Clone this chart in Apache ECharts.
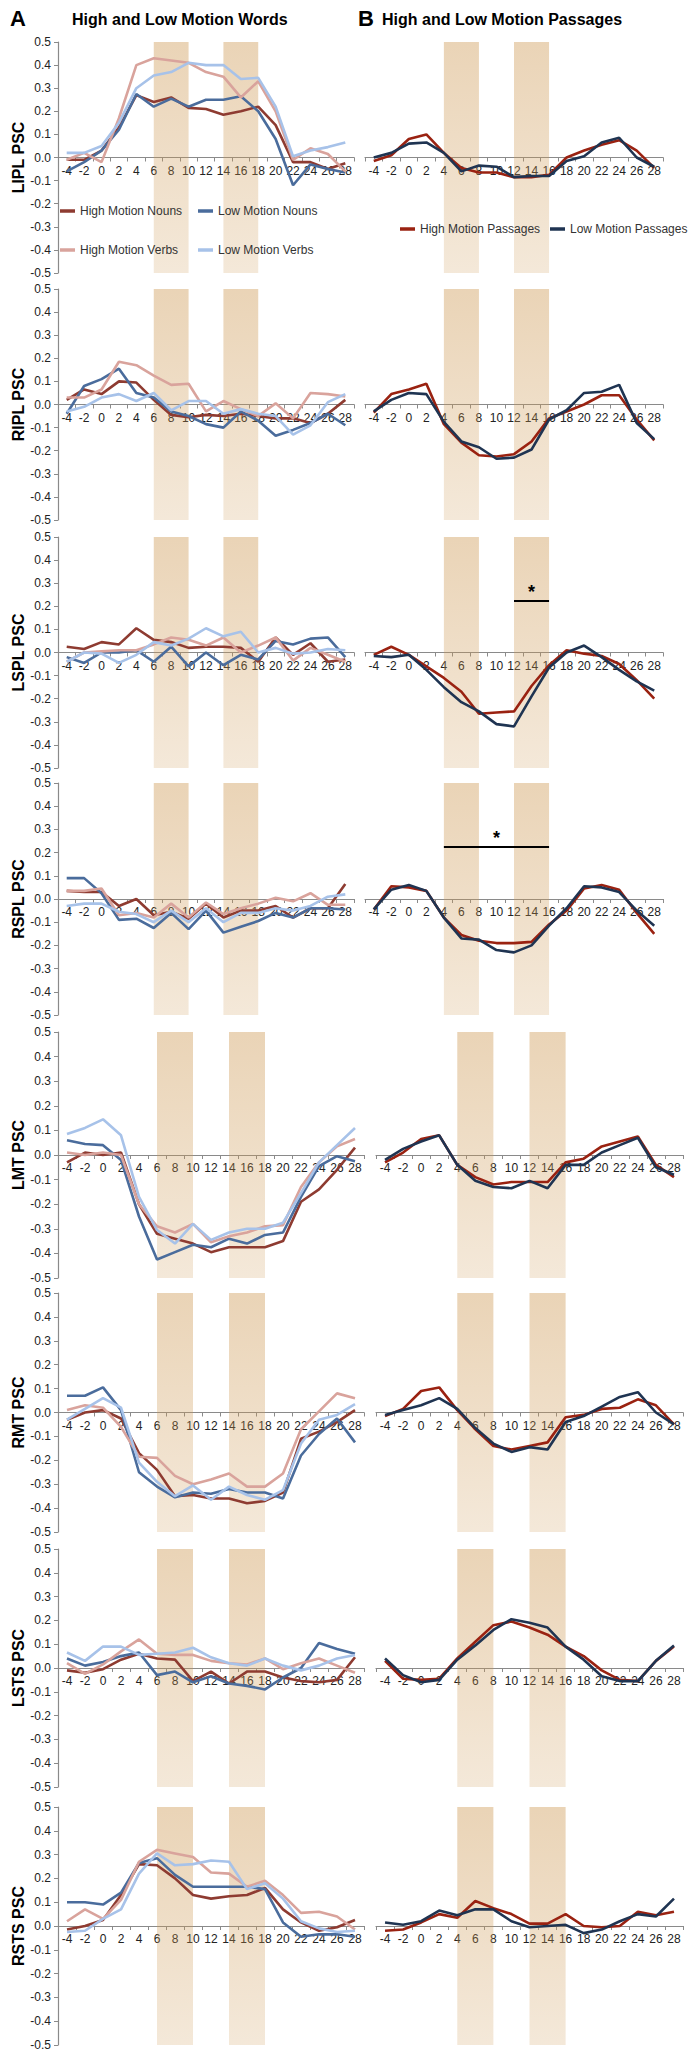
<!DOCTYPE html>
<html><head><meta charset="utf-8">
<script src="https://cdn.jsdelivr.net/npm/echarts@6/dist/echarts.min.js"></script>
<style>html,body{margin:0;padding:0;background:#fff}#chart{width:695px;height:2062px}</style>
</head><body><div id="chart"></div>
<script>
// ---- categories / ticks ----
const categories = ['-4','-2','0','2','4','6','8','10','12','14','16','18','20','22','24','26','28'];
const regionNames = ['LIPL PSC','RIPL PSC','LSPL PSC','RSPL PSC','LMT PSC','RMT PSC','LSTS PSC','RSTS PSC'];
const wordSeriesNames = ['High Motion Nouns','Low Motion Nouns','High Motion Verbs','Low Motion Verbs'];
const passageSeriesNames = ['High Motion Passages','Low Motion Passages'];
const wordBands = [['6','10'],['14','18']];
const passageBands = [['4','8'],['12','16']];

// ---- LIPL ----
const liplHighNouns = [-0.01,-0.01,0.03,0.13,0.27,0.24,0.26,0.215,0.21,0.185,0.20,0.22,0.14,-0.02,-0.02,-0.05,-0.025];
const liplLowNouns  = [-0.06,-0.02,0.03,0.12,0.275,0.22,0.255,0.22,0.25,0.25,0.265,0.20,0.08,-0.12,-0.03,-0.05,-0.065];
const liplHighVerbs = [-0.01,0.02,-0.02,0.17,0.40,0.43,0.42,0.41,0.37,0.35,0.26,0.33,0.20,-0.01,0.04,0.015,-0.06];
const liplLowVerbs  = [0.02,0.02,0.05,0.15,0.30,0.355,0.37,0.41,0.40,0.40,0.34,0.345,0.22,0.005,0.03,0.045,0.065];
const liplHighPass  = [-0.015,0.01,0.08,0.10,0.02,-0.045,-0.065,-0.065,-0.085,-0.085,-0.075,0.0,0.03,0.055,0.075,0.03,-0.045];
const liplLowPass   = [0.0,0.02,0.06,0.065,0.02,-0.06,-0.035,-0.04,-0.085,-0.08,-0.08,-0.015,0.005,0.065,0.085,0.0,-0.04];
// ---- RIPL ----
const riplHighNouns = [0.02,0.065,0.045,0.10,0.095,0.02,-0.045,-0.055,-0.045,-0.05,-0.04,-0.05,-0.06,-0.06,-0.08,-0.04,0.02];
const riplLowNouns  = [-0.04,0.08,0.11,0.155,0.05,0.03,-0.03,-0.05,-0.085,-0.10,-0.03,-0.07,-0.135,-0.11,-0.08,-0.04,-0.09];
const riplHighVerbs = [0.03,0.03,0.065,0.185,0.17,0.125,0.085,0.09,-0.03,0.015,-0.02,-0.05,0.005,-0.06,0.05,0.045,0.035];
const riplLowVerbs  = [-0.03,-0.01,0.03,0.045,0.015,0.05,-0.025,0.015,0.015,-0.04,-0.02,-0.04,-0.05,-0.13,-0.09,0.01,0.045];
const riplHighPass  = [-0.035,0.045,0.065,0.09,-0.085,-0.165,-0.22,-0.225,-0.215,-0.16,-0.06,-0.03,0.0,0.04,0.04,-0.065,-0.155];
const riplLowPass   = [-0.03,0.02,0.05,0.045,-0.075,-0.16,-0.185,-0.235,-0.23,-0.195,-0.065,-0.025,0.05,0.055,0.085,-0.08,-0.15];
// ---- LSPL ----
const lsplHighNouns = [0.025,0.015,0.045,0.035,0.105,0.055,0.045,0.02,0.025,0.025,0.02,-0.04,0.065,-0.01,0.04,-0.04,-0.03];
const lsplLowNouns  = [-0.02,-0.045,0.0,0.0,0.01,-0.04,0.025,-0.06,0.0,-0.055,-0.01,-0.03,0.05,0.035,0.06,0.065,-0.02];
const lsplHighVerbs = [-0.04,0.0,0.005,0.01,0.01,0.035,0.065,0.055,0.03,0.065,0.0,0.03,0.065,-0.035,0.02,-0.01,-0.04];
const lsplLowVerbs  = [-0.04,0.0,-0.005,-0.045,-0.01,0.045,0.03,0.06,0.105,0.07,0.09,0.0,0.02,-0.005,0.0,0.015,0.01];
const lsplHighPass  = [-0.01,0.025,-0.01,-0.06,-0.11,-0.17,-0.265,-0.26,-0.255,-0.145,-0.055,0.01,-0.005,-0.015,-0.05,-0.12,-0.2];
const lsplLowPass   = [-0.015,-0.02,-0.01,-0.075,-0.15,-0.215,-0.255,-0.31,-0.32,-0.19,-0.065,0.0,0.03,-0.02,-0.075,-0.125,-0.165];
// ---- RSPL ----
const rsplHighNouns = [0.035,0.03,0.03,-0.03,0.0,-0.07,-0.055,-0.085,-0.02,-0.08,-0.05,-0.05,-0.03,-0.08,-0.04,-0.04,0.065];
const rsplLowNouns  = [0.09,0.09,0.025,-0.09,-0.085,-0.125,-0.06,-0.13,-0.05,-0.145,-0.12,-0.095,-0.06,-0.08,-0.04,-0.04,-0.045];
const rsplHighVerbs = [0.035,0.035,0.045,-0.07,-0.06,-0.08,-0.02,-0.08,-0.015,-0.065,-0.04,-0.02,0.005,-0.01,0.025,-0.025,-0.025];
const rsplLowVerbs  = [-0.03,-0.02,-0.02,-0.055,-0.065,-0.10,-0.05,-0.10,-0.04,-0.10,-0.06,-0.06,-0.04,-0.05,-0.03,0.01,0.02];
const rsplHighPass  = [-0.045,0.055,0.05,0.035,-0.08,-0.155,-0.18,-0.19,-0.19,-0.185,-0.11,-0.05,0.045,0.06,0.04,-0.06,-0.15];
const rsplLowPass   = [-0.045,0.04,0.06,0.035,-0.08,-0.17,-0.175,-0.22,-0.23,-0.20,-0.115,-0.04,0.055,0.05,0.03,-0.05,-0.115];
// ---- LMT ----
const lmtHighNouns = [-0.03,0.01,0.0,0.01,-0.20,-0.32,-0.34,-0.36,-0.395,-0.375,-0.375,-0.375,-0.35,-0.19,-0.14,-0.06,0.03];
const lmtLowNouns  = [0.06,0.045,0.04,-0.02,-0.25,-0.425,-0.395,-0.365,-0.375,-0.34,-0.36,-0.325,-0.315,-0.17,-0.045,-0.005,-0.025];
const lmtHighVerbs = [0.01,0.0,0.01,0.0,-0.20,-0.29,-0.315,-0.28,-0.355,-0.33,-0.315,-0.29,-0.285,-0.13,-0.03,0.035,0.065];
const lmtLowVerbs  = [0.085,0.11,0.145,0.08,-0.17,-0.305,-0.36,-0.28,-0.345,-0.315,-0.30,-0.30,-0.275,-0.155,-0.03,0.04,0.11];
const lmtHighPass  = [-0.03,0.01,0.065,0.08,-0.04,-0.09,-0.12,-0.11,-0.11,-0.11,-0.03,-0.015,0.035,0.055,0.075,-0.04,-0.09];
const lmtLowPass   = [-0.02,0.025,0.055,0.08,-0.04,-0.105,-0.13,-0.135,-0.105,-0.135,-0.04,-0.04,0.01,0.04,0.07,-0.05,-0.08];
// ---- RMT ----
const rmtHighNouns = [-0.03,0.0,0.01,-0.025,-0.17,-0.24,-0.35,-0.345,-0.36,-0.36,-0.38,-0.37,-0.335,-0.11,-0.08,-0.04,0.01];
const rmtLowNouns  = [0.07,0.07,0.105,0.01,-0.25,-0.31,-0.355,-0.335,-0.34,-0.32,-0.335,-0.335,-0.36,-0.18,-0.09,-0.025,-0.125];
const rmtHighVerbs = [0.01,0.03,0.02,-0.06,-0.185,-0.19,-0.265,-0.30,-0.28,-0.255,-0.31,-0.31,-0.255,-0.07,0.005,0.08,0.06];
const rmtLowVerbs  = [-0.03,0.015,0.06,0.02,-0.21,-0.29,-0.35,-0.305,-0.365,-0.31,-0.345,-0.365,-0.325,-0.13,-0.03,-0.01,0.035];
const rmtHighPass  = [-0.015,0.015,0.09,0.105,0.01,-0.07,-0.14,-0.155,-0.14,-0.125,-0.02,-0.01,0.015,0.02,0.055,0.03,-0.05];
const rmtLowPass   = [-0.01,0.01,0.03,0.06,0.015,-0.065,-0.13,-0.165,-0.145,-0.155,-0.04,-0.015,0.025,0.065,0.085,0.0,-0.05];
// ---- LSTS ----
const lstsHighNouns = [-0.01,-0.02,-0.005,0.035,0.06,0.04,0.035,-0.055,-0.015,-0.065,-0.015,-0.015,-0.04,-0.055,-0.06,-0.05,0.045];
const lstsLowNouns  = [0.04,0.01,0.025,0.05,0.065,-0.03,-0.015,-0.06,-0.035,-0.065,-0.075,-0.09,-0.04,0.0,0.105,0.08,0.06];
const lstsHighVerbs = [0.02,-0.025,0.015,0.07,0.12,0.06,0.055,0.055,0.03,0.02,0.015,0.04,-0.005,0.02,0.04,0.01,-0.02];
const lstsLowVerbs  = [0.065,0.03,0.09,0.09,0.055,0.06,0.065,0.085,0.045,0.02,0.01,0.04,0.01,-0.01,0.01,0.04,0.055];
const lstsHighPass  = [0.03,-0.045,-0.05,-0.045,0.04,0.11,0.18,0.195,0.17,0.14,0.09,0.05,-0.01,-0.05,-0.055,0.03,0.09];
const lstsLowPass   = [0.04,-0.03,-0.06,-0.05,0.035,0.095,0.16,0.205,0.19,0.17,0.09,0.035,-0.035,-0.055,-0.055,0.03,0.095];
// ---- RSTS ----
const rstsHighNouns = [-0.015,0.0,0.025,0.13,0.26,0.255,0.20,0.13,0.115,0.125,0.13,0.16,0.07,0.015,-0.02,-0.005,0.025];
const rstsLowNouns  = [0.10,0.10,0.09,0.14,0.265,0.285,0.215,0.165,0.165,0.165,0.165,0.155,0.015,-0.045,-0.035,-0.035,-0.045];
const rstsHighVerbs = [0.02,0.07,0.03,0.11,0.27,0.32,0.305,0.29,0.225,0.22,0.165,0.19,0.13,0.055,0.06,0.04,-0.015];
const rstsLowVerbs  = [-0.025,-0.02,0.03,0.07,0.22,0.305,0.255,0.26,0.275,0.27,0.155,0.18,0.115,0.02,-0.01,-0.025,-0.02];
const rstsHighPass  = [-0.02,-0.015,0.015,0.05,0.035,0.105,0.075,0.05,0.01,0.01,0.05,0.0,-0.005,0.0,0.06,0.045,0.06];
const rstsLowPass   = [0.015,0.005,0.02,0.065,0.045,0.07,0.07,0.02,-0.005,0.0,0.005,-0.03,-0.015,0.02,0.05,0.04,0.115];

// significance bars: [rowIndex, fromCategory, toCategory, yValue]
const sigBars = [[2,'12','16',0.225],[3,'4','16',0.225]];

const wordData = [
  [liplHighNouns,liplLowNouns,liplHighVerbs,liplLowVerbs],
  [riplHighNouns,riplLowNouns,riplHighVerbs,riplLowVerbs],
  [lsplHighNouns,lsplLowNouns,lsplHighVerbs,lsplLowVerbs],
  [rsplHighNouns,rsplLowNouns,rsplHighVerbs,rsplLowVerbs],
  [lmtHighNouns,lmtLowNouns,lmtHighVerbs,lmtLowVerbs],
  [rmtHighNouns,rmtLowNouns,rmtHighVerbs,rmtLowVerbs],
  [lstsHighNouns,lstsLowNouns,lstsHighVerbs,lstsLowVerbs],
  [rstsHighNouns,rstsLowNouns,rstsHighVerbs,rstsLowVerbs]
];
const passageData = [
  [liplHighPass,liplLowPass],[riplHighPass,riplLowPass],[lsplHighPass,lsplLowPass],[rsplHighPass,rsplLowPass],
  [lmtHighPass,lmtLowPass],[rmtHighPass,rmtLowPass],[lstsHighPass,lstsLowPass],[rstsHighPass,rstsLowPass]
];

// ---- styling / layout ----
const FONT = "'Liberation Sans', Arial, sans-serif";
const wordColors = ['#8E3B31','#4A6C9C','#D9A39C','#A7C2E9'];
const passageColors = ['#9A2211','#1F3452'];
const rowBoxes = [[42,231],[289,231],[537,231],[783,232],[1032,246],[1293,239],[1549,238],[1807,238]];

const grids = [], xAxes = [], yAxes = [], series = [];
const bandStyle = {
  color: {type:'linear',x:0,y:0,x2:0,y2:1,colorStops:[
    {offset:0,color:'rgba(205,152,82,0.42)'},{offset:1,color:'rgba(205,152,82,0.22)'}]}
};
function addPanel(row, isLeft) {
  const [top,h] = rowBoxes[row];
  const wide = row >= 4;
  const left = isLeft ? 58 : (wide ? 376 : 365);
  const width = isLeft ? (wide ? 306 : 296) : (wide ? 307 : 298);
  const gi = grids.length;
  grids.push({left, top, width, height:h, containLabel:false, outerBoundsMode:'none'});
  xAxes.push({
    type:'category', gridIndex:gi, data:categories, boundaryGap:true, position:'bottom',
    offset: -h/2,
    axisLine:{show:true,onZero:false,lineStyle:{color:'#8a8a8a',width:1.2}},
    axisTick:{show:true,length:4,lineStyle:{color:'#8a8a8a'}},
    axisLabel:{interval:0,fontSize:12,color:'#222',margin:7,fontFamily:FONT},
    splitLine:{show:false}
  });
  yAxes.push({
    type:'value', gridIndex:gi, min:-0.5, max:0.5, interval:0.1, show:isLeft,
    name: isLeft ? regionNames[row] : '', nameLocation:'middle', nameGap:31,
    nameTextStyle:{fontSize:16,fontWeight:'bold',color:'#000',fontFamily:FONT},
    axisLine:{show:true,lineStyle:{color:'#8a8a8a',width:1.2}},
    axisTick:{show:true,length:4,lineStyle:{color:'#8a8a8a'}},
    axisLabel:{fontSize:12,color:'#222',margin:7,fontFamily:FONT,
      formatter:v=>{ if (Math.abs(v)<1e-9) return '0.0'; return v.toFixed(1); }},
    splitLine:{show:false}
  });
  const names = isLeft ? wordSeriesNames : passageSeriesNames;
  const cols = isLeft ? wordColors : passageColors;
  const data = isLeft ? wordData[row] : passageData[row];
  names.forEach((nm,k)=>{
    series.push({
      type:'line', name:nm, xAxisIndex:gi, yAxisIndex:gi, data:data[k],
      symbol:'none', smooth:false, z:2, color:cols[k],
      lineStyle:{width:2.6,color:cols[k]}, silent:true, animation:false
    });
  });
  const bands = isLeft ? wordBands : passageBands;
  const bandSeries = {
    type:'line', name:'band'+gi, xAxisIndex:gi, yAxisIndex:gi, data:[], z:4, silent:true, animation:false,
    markArea:{silent:true, itemStyle:bandStyle,
      data:bands.map(b=>[{xAxis:b[0]},{xAxis:b[1]}])}
  };
  const sig = sigBars.filter(s=>s[0]===row && !isLeft);
  if (sig.length) {
    bandSeries.markLine = {
      silent:true, symbol:['none','none'], animation:false,
      lineStyle:{color:'#000',width:2,type:'solid'},
      label:{show:true,position:'middle',formatter:'*',fontSize:18,fontWeight:'bold',color:'#000',distance:0,fontFamily:FONT},
      data:sig.map(s=>[{coord:[s[1],s[3]]},{coord:[s[2],s[3]]}])
    };
  }
  series.push(bandSeries);
}
for (let r=0;r<8;r++){ addPanel(r,true); addPanel(r,false); }

function legendItem(name,left,cy){
  return {data:[{name,icon:'rect'}], left, top:cy-7, padding:0, itemWidth:15, itemHeight:3.5,
    selectedMode:false, textStyle:{fontSize:12,color:'#333',fontFamily:FONT}};
}
const legends = [
  legendItem('High Motion Nouns',60,212), legendItem('Low Motion Nouns',198,212),
  legendItem('High Motion Verbs',60,251), legendItem('Low Motion Verbs',198,251),
  legendItem('High Motion Passages',400,230), legendItem('Low Motion Passages',550,230)
];

const chart = echarts.init(document.getElementById('chart'), null, {renderer:'svg'});
chart.setOption({
  animation:false,
  backgroundColor:'#fff',
  textStyle:{fontFamily:FONT},
  grid:grids, xAxis:xAxes, yAxis:yAxes, series, legend:legends,
  graphic:[
    {type:'text', x:10, y:18, style:{text:'A', font:'bold 22px '+FONT, fill:'#000', align:'left', verticalAlign:'middle'}},
    {type:'text', x:72, y:19, style:{text:'High and Low Motion Words', font:'bold 16px '+FONT, fill:'#000', align:'left', verticalAlign:'middle'}},
    {type:'text', x:358, y:18, style:{text:'B', font:'bold 22px '+FONT, fill:'#000', align:'left', verticalAlign:'middle'}},
    {type:'text', x:382, y:19, style:{text:'High and Low Motion Passages', font:'bold 16px '+FONT, fill:'#000', align:'left', verticalAlign:'middle'}}
  ]
});
</script></body></html>
